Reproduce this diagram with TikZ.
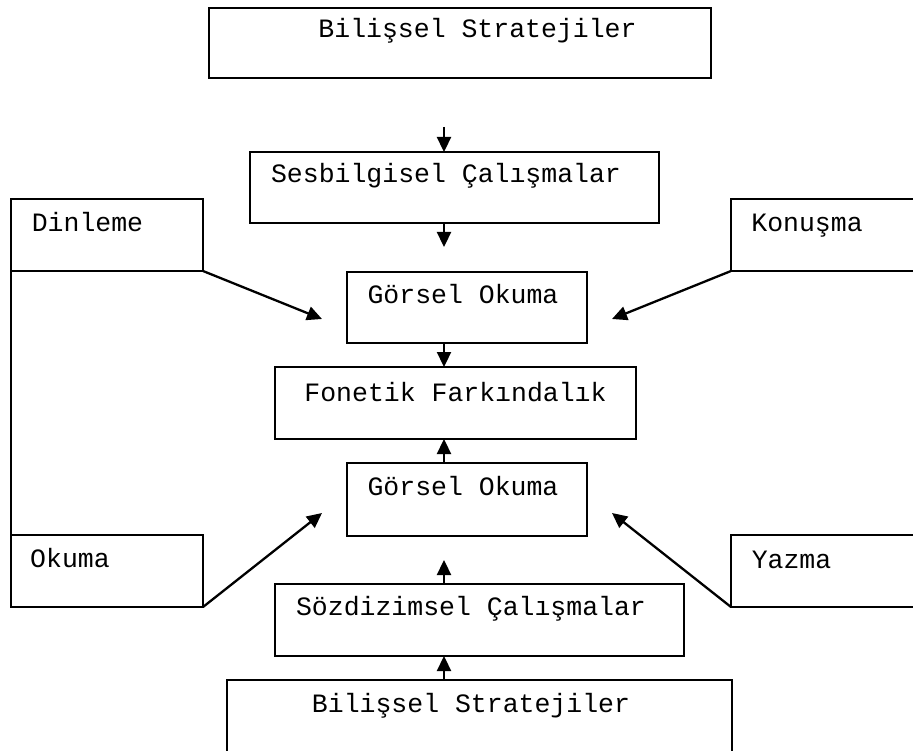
\documentclass[tikz,border=0pt]{standalone}
\usepackage{fontspec}
\setmainfont{Liberation Mono}
\usetikzlibrary{arrows.meta}
\tikzset{
  box/.style={draw=black, line width=2.3pt, rectangle, inner sep=0pt, outer sep=0pt},
  txt/.style={anchor=base, inner sep=0pt, font=\fontsize{26.5}{30}\selectfont},
  arr/.style={draw=black, line width=2.3pt, -{Triangle[length=15pt,width=14pt]}}
}
\begin{document}
\begin{tikzpicture}[x=1pt, y=-1pt]
\clip (0,0) rectangle (913,751);
\fill[white] (0,0) rectangle (913,751);
% boxes
\node[box, minimum width=502pt, minimum height=70pt] (top) at (460,43) {};
\node[box, minimum width=409pt, minimum height=71pt] (ses) at (454.5,187.5) {};
\node[box, minimum width=240pt, minimum height=71pt] (g1) at (467,307.5) {};
\node[box, minimum width=361pt, minimum height=72pt] (fon) at (455.5,403) {};
\node[box, minimum width=240pt, minimum height=73pt] (g2) at (467,499.5) {};
\node[box, minimum width=409pt, minimum height=72pt] (soz) at (479.5,620) {};
\node[box, minimum width=505pt, minimum height=90pt] (bot) at (479.5,725) {};
\node[box, minimum width=192pt, minimum height=72pt] (din) at (107,235) {};
\node[box, minimum width=209pt, minimum height=72pt] (kon) at (835.5,235) {};
\node[box, minimum width=192pt, minimum height=72pt] (oku) at (107,571) {};
\node[box, minimum width=209pt, minimum height=72pt] (yaz) at (835.5,571) {};
% texts
\node[txt] (ttop) at (477.5,38) {Bilişsel Stratejiler};
\node[txt] (tses) at (446,183) {Sesbilgisel Çalışmalar};
\node[txt] (tg1) at (463,304) {Görsel Okuma};
\node[txt] (tfon) at (455.5,401) {Fonetik Farkındalık};
\node[txt] (tg2) at (463,495) {Görsel Okuma};
\node[txt] (tsoz) at (471,615) {Sözdizimsel Çalışmalar};
\node[txt] (tbot) at (471,712) {Bilişsel Stratejiler};
\node[txt] (tdin) at (87.5,232) {Dinleme};
\node[txt] (tkon) at (807,232) {Konuşma};
\node[txt] (toku) at (70,567) {Okuma};
\node[txt] (tyaz) at (791.5,568) {Yazma};
% helper coordinates
\coordinate (cx) at (444,0);
\coordinate (s1) at (444,127);
\coordinate (e1) at (444,247);
\coordinate (e2) at (444,560);
\coordinate (pdin) at (322,319);
\coordinate (pkon) at (612,319);
\coordinate (poku) at (322,513);
\coordinate (pyaz) at (612,513);
% connectors
\draw[arr] (s1) -- (ses.north -| cx);
\draw[arr] (ses.south -| cx) -- (e1);
\draw[arr] (g1.south -| cx) -- (fon.north -| cx);
\draw[arr] (g2.north -| cx) -- (fon.south -| cx);
\draw[arr] (soz.north -| cx) -- (e2);
\draw[arr] (bot.north -| cx) -- (soz.south -| cx);
\draw[arr] (din.south east) -- (pdin);
\draw[arr] (kon.south west) -- (pkon);
\draw[arr] (oku.south east) -- (poku);
\draw[arr] (yaz.south west) -- (pyaz);
\draw[line width=2.3pt] (din.south west) -- (oku.north west);
\end{tikzpicture}
\end{document}
